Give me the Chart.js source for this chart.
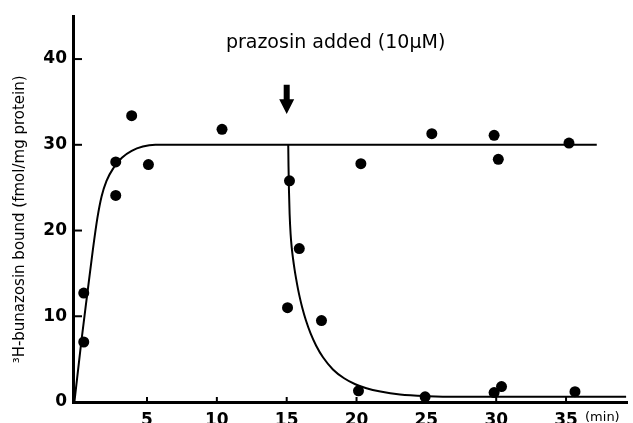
<!DOCTYPE html>
<html>
<head>
<meta charset="utf-8">
<script src="https://cdn.jsdelivr.net/npm/chart.js@4.4.1/dist/chart.umd.min.js"></script>
<style>
  html, body { margin: 0; padding: 0; background: #fff; }
  #wrap { width: 633px; height: 423px; position: relative; }
</style>
</head>
<body>
<div id="wrap"><canvas id="c" width="633" height="423"></canvas></div>
<script>
// ---- data ----
const xTicks = [5, 10, 15, 20, 25, 30, 35];
const yTicks = [0, 10, 20, 30, 40];

// measured points (time in min, bound in fmol/mg protein)
const pointT = [0.47, 0.47, 2.76, 2.76, 3.90, 5.10, 10.37, 15.20, 15.06, 15.90, 17.49, 20.14, 20.31, 24.91, 25.39, 29.85, 29.85, 30.15, 30.38, 35.21, 35.64];
const pointB = [12.7, 7.0, 28.0, 24.1, 33.4, 27.7, 31.8, 25.8, 11.0, 17.9, 9.5, 1.3, 27.8, 0.6, 31.3, 31.1, 1.1, 28.3, 1.8, 30.2, 1.2];

// association curve (traced)
const riseT = [-0.2, 0.30, 0.73, 1.11, 1.45, 1.75, 2.10, 2.60, 3.20, 3.90, 4.70, 5.60, 37.2];
const riseB = [0.0, 7.1, 12.7, 17.6, 21.5, 24.0, 25.8, 27.3, 28.5, 29.3, 29.8, 30.0, 30.0];

// dissociation curve after prazosin (traced)
const decayT = [15.11, 15.13, 15.16, 15.21, 15.28, 15.36, 15.46, 15.56, 15.66, 15.81, 15.96, 16.11, 16.38, 16.71, 17.11, 17.61, 18.31, 19.11, 19.91, 20.71, 21.71, 23.11, 25.11, 27.10, 39.3];
const decayB = [30.0, 27.5, 24.8, 21.9, 19.6, 18.0, 16.65, 15.5, 14.5, 13.17, 12.03, 11.03, 9.5, 8.0, 6.57, 5.19, 3.8, 2.77, 2.07, 1.6, 1.22, 0.88, 0.68, 0.6, 0.6];

// annotations
const titleText = 'prazosin added (10\u03BCM)';
const titleAt = [18.5, 41.3];
const arrowAt = [15.0, 37.0, 33.6];   // x, top value, tip value
const unitText = '(min)';
const unitAt = 37.6;
const yTitle = '\u00B3H-bunazosin bound (fmol/mg protein)';
const yTitleAt = 21.3;

const toXY = (xs, ys) => xs.map((x, i) => ({ x: x, y: ys[i] }));

const FONT = '"DejaVu Sans", sans-serif';

const annotations = {
  id: 'annotations',
  afterDatasetsDraw(chart) {
    const ctx = chart.ctx;
    const xs = chart.scales.x, ys = chart.scales.y;
    const area = chart.chartArea;
    ctx.save();
    // inner tick marks
    ctx.strokeStyle = '#000';
    ctx.lineWidth = 2;
    ys.ticks.forEach(t => {
      if (t.value === 0) return;
      const py = ys.getPixelForValue(t.value);
      ctx.beginPath();
      ctx.moveTo(area.left, py);
      ctx.lineTo(area.left + 9, py);
      ctx.stroke();
    });
    xs.ticks.forEach(t => {
      const px = xs.getPixelForValue(t.value);
      ctx.beginPath();
      ctx.moveTo(px, area.bottom);
      ctx.lineTo(px, area.bottom - 5);
      ctx.stroke();
    });
    // title text
    ctx.fillStyle = '#000';
    ctx.font = '19px ' + FONT;
    ctx.textAlign = 'center';
    ctx.textBaseline = 'alphabetic';
    ctx.fillText(titleText, xs.getPixelForValue(titleAt[0]), ys.getPixelForValue(titleAt[1]));
    // arrow
    const ax = xs.getPixelForValue(arrowAt[0]);
    const top = ys.getPixelForValue(arrowAt[1]);
    const tip = ys.getPixelForValue(arrowAt[2]);
    const headH = (tip - top) * 0.5;
    ctx.beginPath();
    ctx.moveTo(ax - 3, top);
    ctx.lineTo(ax + 3, top);
    ctx.lineTo(ax + 3, tip - headH);
    ctx.lineTo(ax + 7.5, tip - headH);
    ctx.lineTo(ax, tip);
    ctx.lineTo(ax - 7.5, tip - headH);
    ctx.lineTo(ax - 3, tip - headH);
    ctx.closePath();
    ctx.fill();
    // unit label
    ctx.font = '13px ' + FONT;
    ctx.textBaseline = 'top';
    ctx.fillText(unitText, xs.getPixelForValue(unitAt), area.bottom + 9);
    // y axis title
    ctx.save();
    ctx.translate(area.left - 53, ys.getPixelForValue(yTitleAt));
    ctx.rotate(-Math.PI / 2);
    ctx.font = '15px ' + FONT;
    ctx.textAlign = 'center';
    ctx.textBaseline = 'middle';
    ctx.fillText(yTitle, 0, 0);
    ctx.restore();
    ctx.restore();
  }
};

new Chart(document.getElementById('c'), {
  type: 'scatter',
  data: {
    datasets: [
      {
        label: 'association',
        data: toXY(riseT, riseB),
        showLine: true,
        borderColor: '#000',
        borderWidth: 2,
        pointRadius: 0,
        cubicInterpolationMode: 'monotone',
        fill: false
      },
      {
        label: 'dissociation',
        data: toXY(decayT, decayB),
        showLine: true,
        borderColor: '#000',
        borderWidth: 2,
        pointRadius: 0,
        cubicInterpolationMode: 'monotone',
        fill: false
      },
      {
        label: 'measured',
        data: toXY(pointT, pointB),
        showLine: false,
        pointRadius: 5.5,
        pointBackgroundColor: '#000',
        pointBorderColor: '#000',
        pointBorderWidth: 0
      }
    ]
  },
  options: {
    responsive: false,
    animation: false,
    devicePixelRatio: 1,
    layout: { padding: { top: 14, right: 5, left: 0, bottom: 0 } },
    plugins: {
      legend: { display: false },
      tooltip: { enabled: false },
      title: { display: false }
    },
    scales: {
      x: {
        type: 'linear',
        min: -0.3,
        max: 39.4,
        afterBuildTicks: s => { s.ticks = xTicks.map(v => ({ value: v })); },
        afterFit: s => { s.height = 21; },
        grid: { display: false, drawTicks: false },
        border: { display: true, color: '#000', width: 3 },
        ticks: {
          color: '#000',
          padding: 8,
          maxRotation: 0,
          autoSkip: false,
          font: { family: FONT, size: 17, weight: 'bold' }
        }
      },
      y: {
        type: 'linear',
        min: 0,
        max: 45,
        afterBuildTicks: s => { s.ticks = yTicks.map(v => ({ value: v })); },
        afterFit: s => { s.width = 73; },
        grid: { display: false, drawTicks: false },
        border: { display: true, color: '#000', width: 3 },
        ticks: {
          color: '#000',
          padding: 6,
          font: { family: FONT, size: 17, weight: 'bold' }
        },
        title: { display: false }
      }
    }
  },
  plugins: [annotations]
});
</script>
</body>
</html>
